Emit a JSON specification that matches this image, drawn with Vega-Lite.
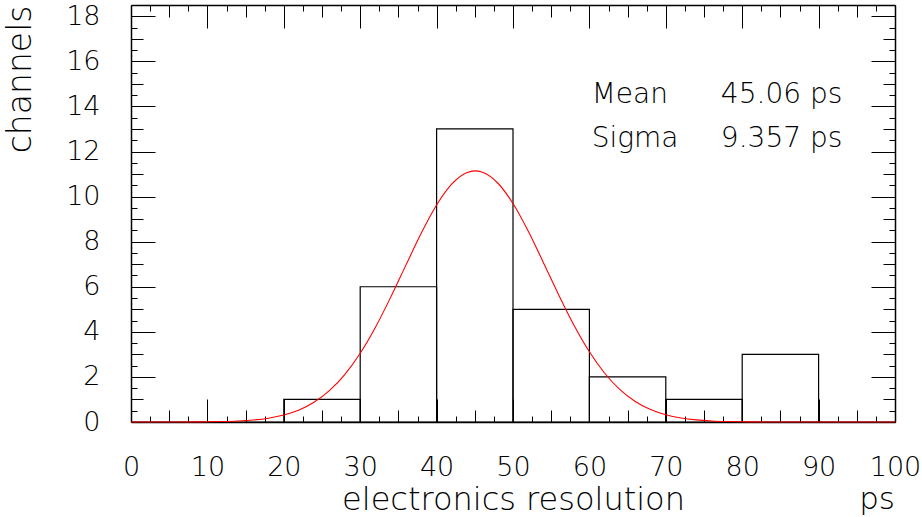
{
  "$schema": "https://vega.github.io/schema/vega-lite/v6.json",
  "width": 764,
  "height": 417,
  "autosize": {"type": "none"},
  "padding": {"left": 131, "top": 5, "right": 27, "bottom": 95},
  "background": "white",
  "config": {
    "view": {"stroke": null},
    "font": "DejaVu Sans",
    "axis": {
      "grid": false,
      "domainColor": "black",
      "domainWidth": 1.5,
      "tickColor": "black",
      "tickWidth": 1,
      "labelFont": "DejaVu Sans",
      "labelFontWeight": 200,
      "labelFontSize": 27,
      "labelColor": "black",
      "labelOverlap": false,
      "labelFlush": false,
      "labelBound": false,
      "titleFont": "DejaVu Sans",
      "titleFontWeight": 200,
      "titleColor": "black"
    }
  },
  "title": {"text": "ps", "orient": "bottom", "anchor": "end", "frame": "group", "font": "DejaVu Sans", "fontWeight": 200, "fontSize": 31, "color": "black", "offset": -30},
  "datasets": {
    "hist": [
      {"lo": 0, "hi": 10, "count": 0},
      {"lo": 10, "hi": 20, "count": 0},
      {"lo": 20, "hi": 30, "count": 1},
      {"lo": 30, "hi": 40, "count": 6},
      {"lo": 40, "hi": 50, "count": 13},
      {"lo": 50, "hi": 60, "count": 5},
      {"lo": 60, "hi": 70, "count": 2},
      {"lo": 70, "hi": 80, "count": 1},
      {"lo": 80, "hi": 90, "count": 3},
      {"lo": 90, "hi": 100, "count": 0}
    ],
    "fit": [
      {"x": 0, "y": 0.0001}, {"x": 2, "y": 0.0003}, {"x": 4, "y": 0.0007}, {"x": 6, "y": 0.0018},
      {"x": 8, "y": 0.0044}, {"x": 10, "y": 0.0099}, {"x": 12, "y": 0.0217}, {"x": 14, "y": 0.0451},
      {"x": 16, "y": 0.0896}, {"x": 18, "y": 0.170}, {"x": 20, "y": 0.309}, {"x": 22, "y": 0.534},
      {"x": 24, "y": 0.884}, {"x": 26, "y": 1.399}, {"x": 28, "y": 2.115}, {"x": 30, "y": 3.051},
      {"x": 32, "y": 4.205}, {"x": 34, "y": 5.540}, {"x": 36, "y": 6.971}, {"x": 38, "y": 8.381},
      {"x": 40, "y": 9.625}, {"x": 42, "y": 10.560}, {"x": 44, "y": 11.069}, {"x": 45, "y": 11.14},
      {"x": 46, "y": 11.084}, {"x": 48, "y": 10.603}, {"x": 50, "y": 9.691}, {"x": 52, "y": 8.462},
      {"x": 54, "y": 7.058}, {"x": 56, "y": 5.625}, {"x": 58, "y": 4.282}, {"x": 60, "y": 3.114},
      {"x": 62, "y": 2.163}, {"x": 64, "y": 1.436}, {"x": 66, "y": 0.911}, {"x": 68, "y": 0.552},
      {"x": 70, "y": 0.319}, {"x": 72, "y": 0.176}, {"x": 74, "y": 0.0932}, {"x": 76, "y": 0.0471},
      {"x": 78, "y": 0.0227}, {"x": 80, "y": 0.0105}, {"x": 82, "y": 0.0046}, {"x": 84, "y": 0.0019},
      {"x": 86, "y": 0.0008}, {"x": 88, "y": 0.0003}, {"x": 90, "y": 0.0001}, {"x": 95, "y": 0},
      {"x": 100, "y": 0}
    ],
    "stats": [
      {"name": "Mean", "value": "45.06 ps", "y": 14.14},
      {"name": "Sigma", "value": "9.357 ps", "y": 12.2}
    ]
  },
  "layer": [
    {
      "data": {"name": "hist"},
      "mark": {"type": "rect", "fill": null, "fillOpacity": 0, "stroke": "black", "strokeWidth": 1.2},
      "encoding": {
        "x": {
          "field": "lo", "type": "quantitative",
          "scale": {"domain": [0, 100], "nice": false, "zero": false},
          "axis": {
            "orient": "bottom",
            "title": "electronics resolution",
            "titleFontSize": 32,
            "titlePadding": -13,
            "values": [0,2.5,5,7.5,10,12.5,15,17.5,20,22.5,25,27.5,30,32.5,35,37.5,40,42.5,45,47.5,50,52.5,55,57.5,60,62.5,65,67.5,70,72.5,75,77.5,80,82.5,85,87.5,90,92.5,95,97.5,100],
            "labelExpr": "datum.value % 10 === 0 ? format(datum.value, 'd') : ''",
            "tickSize": {"condition": [{"test": "datum.value % 10 === 0", "value": -23}, {"test": "datum.value % 5 === 0", "value": -12}], "value": -6},
            "labelPadding": 55
          }
        },
        "x2": {"field": "hi"},
        "y": {
          "field": "count", "type": "quantitative",
          "scale": {"domain": [0, 18.5], "nice": false, "zero": false},
          "axis": {
            "orient": "left",
            "title": "channels",
            "titleFontSize": 33,
            "titleAnchor": "end",
            "titlePadding": 28,
            "values": [0,0.5,1,1.5,2,2.5,3,3.5,4,4.5,5,5.5,6,6.5,7,7.5,8,8.5,9,9.5,10,10.5,11,11.5,12,12.5,13,13.5,14,14.5,15,15.5,16,16.5,17,17.5,18],
            "labelExpr": "datum.value % 2 === 0 ? format(datum.value, 'd') : ''",
            "tickSize": {"condition": [{"test": "datum.value % 2 === 0", "value": -24}, {"test": "datum.value % 1 === 0", "value": -12}], "value": -6},
            "labelPadding": 55
          }
        },
        "y2": {"datum": 0}
      }
    },
    {
      "data": {"name": "fit"},
      "mark": {"type": "line", "color": "#ff0000", "strokeWidth": 1.1, "interpolate": "monotone"},
      "encoding": {
        "x": {
          "field": "x", "type": "quantitative",
          "axis": {
            "orient": "top", "title": null, "labels": false,
            "values": [0,2.5,5,7.5,10,12.5,15,17.5,20,22.5,25,27.5,30,32.5,35,37.5,40,42.5,45,47.5,50,52.5,55,57.5,60,62.5,65,67.5,70,72.5,75,77.5,80,82.5,85,87.5,90,92.5,95,97.5,100],
            "tickSize": {"condition": [{"test": "datum.value % 10 === 0", "value": -23}, {"test": "datum.value % 5 === 0", "value": -12}], "value": -6}
          }
        },
        "y": {
          "field": "y", "type": "quantitative",
          "axis": {
            "orient": "right", "title": null, "labels": false,
            "values": [0,0.5,1,1.5,2,2.5,3,3.5,4,4.5,5,5.5,6,6.5,7,7.5,8,8.5,9,9.5,10,10.5,11,11.5,12,12.5,13,13.5,14,14.5,15,15.5,16,16.5,17,17.5,18],
            "tickSize": {"condition": [{"test": "datum.value % 2 === 0", "value": -24}, {"test": "datum.value % 1 === 0", "value": -12}], "value": -6}
          }
        }
      }
    },
    {
      "data": {"name": "stats"},
      "mark": {"type": "text", "align": "left", "baseline": "alphabetic", "font": "DejaVu Sans", "fontWeight": 200, "fontSize": 28, "color": "black"},
      "encoding": {
        "x": {"datum": 60.3, "type": "quantitative", "axis": null},
        "y": {"field": "y", "type": "quantitative", "axis": null},
        "text": {"field": "name"}
      }
    },
    {
      "data": {"name": "stats"},
      "mark": {"type": "text", "align": "right", "baseline": "alphabetic", "font": "DejaVu Sans", "fontWeight": 200, "fontSize": 28, "color": "black"},
      "encoding": {
        "x": {"datum": 93.1, "type": "quantitative", "axis": null},
        "y": {"field": "y", "type": "quantitative", "axis": null},
        "text": {"field": "value"}
      }
    }
  ],
  "resolve": {"axis": {"x": "independent", "y": "independent"}}
}
